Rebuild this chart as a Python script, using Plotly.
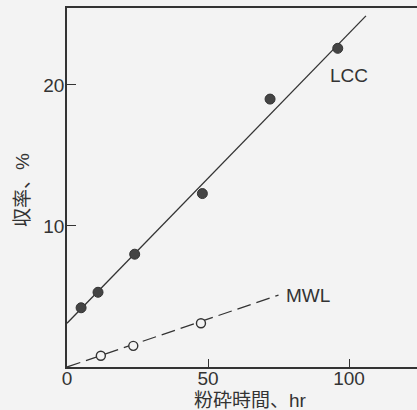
import plotly.graph_objects as go

# Data
lcc_time = [5, 11, 24, 48, 72, 96]
lcc_yield = [4.2, 5.3, 8.0, 12.3, 19.0, 22.6]
lcc_fit_time = [0, 106]
lcc_fit_yield = [3.1, 24.9]

mwl_time = [12, 23.5, 47.5]
mwl_yield = [0.8, 1.5, 3.1]
mwl_fit_time = [0, 75]
mwl_fit_yield = [0, 5.1]

x_ticks = [0, 50, 100]
y_ticks = [10, 20]

ink = "#333333"
bg = "#f3f3f3"
font_family = "Liberation Sans, Noto Sans CJK JP, sans-serif"

fig = go.Figure()
fig.add_trace(go.Scatter(x=lcc_fit_time, y=lcc_fit_yield, mode="lines",
                         line=dict(color=ink, width=1.3), showlegend=False, hoverinfo="skip"))
fig.add_trace(go.Scatter(x=mwl_fit_time, y=mwl_fit_yield, mode="lines",
                         line=dict(color=ink, width=1.3, dash="14px,6px"), showlegend=False, hoverinfo="skip"))
fig.add_trace(go.Scatter(x=lcc_time, y=lcc_yield, mode="markers",
                         marker=dict(size=10, color="#444444", line=dict(color="#333333", width=1)),
                         showlegend=False))
fig.add_trace(go.Scatter(x=mwl_time, y=mwl_yield, mode="markers",
                         marker=dict(size=9, color=bg, line=dict(color=ink, width=1.4)),
                         showlegend=False))

fig.add_annotation(x=100, y=20.7, text="LCC", showarrow=False,
                   font=dict(size=19, color=ink, family=font_family))
fig.add_annotation(x=85.5, y=5.1, text="MWL", showarrow=False,
                   font=dict(size=19, color=ink, family=font_family))

# axis titles placed as text at the reference positions
fig.add_annotation(xref="paper", yref="paper", x=(250 - 67) / 350, y=(367 - 400) / 359,
                   text="粉砕時間、hr", showarrow=False, xanchor="center", yanchor="middle",
                   font=dict(size=19, color=ink, family=font_family))
fig.add_annotation(xref="paper", yref="paper", x=(22 - 67) / 350, y=(367 - 190) / 359,
                   text="収率、%", showarrow=False, xanchor="center", yanchor="middle",
                   textangle=-90, font=dict(size=19, color=ink, family=font_family))

fig.update_layout(
    width=417, height=410,
    margin=dict(l=67, r=0, t=8, b=43),
    paper_bgcolor=bg, plot_bgcolor=bg,
    font=dict(family=font_family, color=ink, size=18),
    showlegend=False,
)
fig.update_xaxes(range=[0, 124.1], tickvals=x_ticks, ticks="inside", ticklen=8,
                 tickcolor=ink, tickwidth=1.3, showgrid=False, zeroline=False,
                 showline=True, linecolor=ink, linewidth=1.5, mirror=True,
                 tickfont=dict(size=19), automargin=False, ticklabelstandoff=-7)
fig.update_yaxes(range=[0, 25.46], tickvals=y_ticks, ticks="inside", ticklen=9,
                 tickcolor=ink, tickwidth=1.3, showgrid=False, zeroline=False,
                 showline=True, linecolor=ink, linewidth=1.5,
                 tickfont=dict(size=19), automargin=False, ticklabelstandoff=-3)

fig.write_html("out.html", config={"displayModeBar": False},
               post_script="document.body.style.margin='0';document.body.style.overflow='hidden';")
